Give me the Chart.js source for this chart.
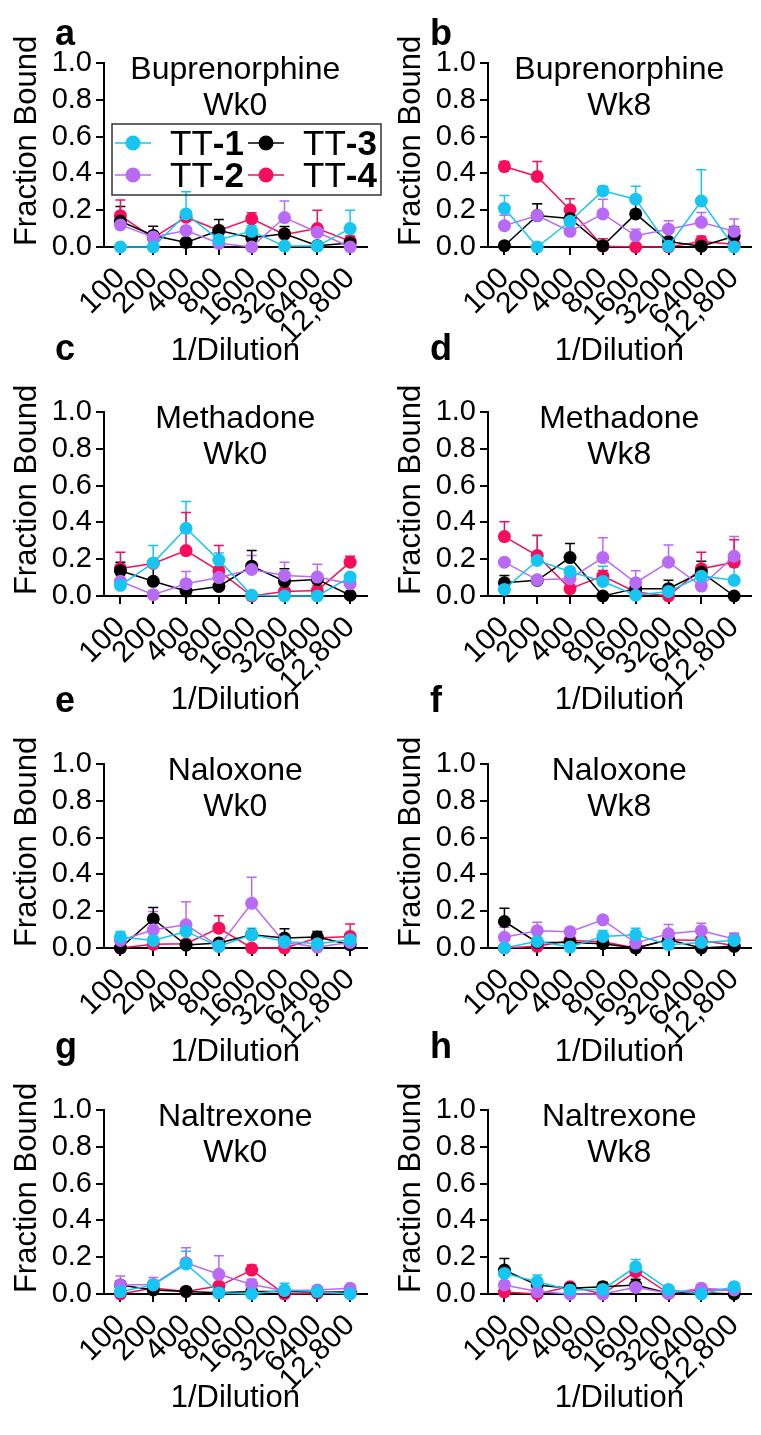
<!DOCTYPE html>
<html>
<head>
<meta charset="utf-8">
<title>Fraction bound vs dilution</title>
<script src="https://cdn.jsdelivr.net/npm/chart.js@4.4.1/dist/chart.umd.min.js"></script>
<style>
  html, body { margin: 0; padding: 0; background: #fff; }
  body { width: 761px; height: 1435px; position: relative; overflow: hidden; }
  canvas { position: absolute; }
</style>
</head>
<body>
<canvas id="pa"></canvas>
<canvas id="pb"></canvas>
<canvas id="pc"></canvas>
<canvas id="pd"></canvas>
<canvas id="pe"></canvas>
<canvas id="pf"></canvas>
<canvas id="pg"></canvas>
<canvas id="ph"></canvas>
<script>
const dilutions = ['100', '200', '400', '800', '1600', '3200', '6400', '12,800'];
const seriesNames = ['TT-1', 'TT-2', 'TT-3', 'TT-4'];
const seriesColors = ['#16c5f2', '#b86af7', '#000000', '#f70d5c'];
const yTicks = [0, 0.2, 0.4, 0.6, 0.8, 1.0];

// fraction bound, one row per series (TT-1, TT-2, TT-3, TT-4), error = upper SEM
const bup0 = [
  [0, 0, 0.18, 0.04, 0.085, 0.005, 0.005, 0.10],
  [0.12, 0.055, 0.09, 0.02, 0, 0.16, 0.08, 0],
  [0.14, 0.063, 0.025, 0.09, 0.05, 0.072, 0.007, 0.022],
  [0.17, 0.05, 0.162, 0.09, 0.153, 0.068, 0.10, 0.032]
];
const bup0Err = [
  [0, 0, 0.12, 0.02, 0.03, 0, 0, 0.10],
  [0.01, 0.01, 0.02, 0.01, 0, 0.09, 0.02, 0],
  [0.08, 0.05, 0.01, 0.06, 0.01, 0.04, 0.005, 0.02],
  [0.085, 0.01, 0.02, 0.01, 0.033, 0.01, 0.10, 0.028]
];
const bup8 = [
  [0.21, 0, 0.14, 0.305, 0.26, 0.004, 0.25, 0],
  [0.116, 0.171, 0.085, 0.18, 0.061, 0.097, 0.134, 0.085],
  [0.007, 0.171, 0.155, 0.007, 0.18, 0.03, 0.004, 0.058],
  [0.437, 0.383, 0.202, 0.004, 0, 0, 0.03, 0.015]
];
const bup8Err = [
  [0.07, 0, 0.04, 0.025, 0.07, 0, 0.17, 0],
  [0.057, 0.064, 0.01, 0.08, 0.036, 0.046, 0.054, 0.067],
  [0, 0.064, 0.035, 0, 0.09, 0.005, 0, 0.052],
  [0.027, 0.081, 0.06, 0.041, 0, 0, 0.028, 0.005]
];
const met0 = [
  [0.058, 0.18, 0.368, 0.195, 0.004, 0, 0, 0.103],
  [0.08, 0.007, 0.067, 0.1, 0.144, 0.112, 0.103, 0.067],
  [0.137, 0.08, 0.027, 0.052, 0.162, 0.08, 0.09, 0.004],
  [0.15, 0.177, 0.247, 0.137, 0, 0.025, 0.03, 0.184]
];
const met0Err = [
  [0.01, 0.094, 0.145, 0.039, 0, 0, 0, 0.01],
  [0.01, 0, 0.066, 0.02, 0.076, 0.072, 0.07, 0.01],
  [0.047, 0.09, 0.005, 0.01, 0.085, 0.068, 0.01, 0],
  [0.088, 0.01, 0.207, 0.137, 0, 0.01, 0.028, 0.032]
];
const met8 = [
  [0.036, 0.193, 0.133, 0.079, 0.004, 0.025, 0.108, 0.085],
  [0.184, 0.088, 0.094, 0.209, 0.072, 0.184, 0.054, 0.216],
  [0.072, 0.085, 0.209, 0, 0.04, 0.04, 0.13, 0],
  [0.323, 0.22, 0.04, 0.108, 0.022, 0, 0.148, 0.184]
];
const met8Err = [
  [0.01, 0.135, 0.02, 0.083, 0, 0.01, 0.04, 0.072],
  [0.01, 0.01, 0.01, 0.108, 0.065, 0.093, 0.01, 0.108],
  [0.04, 0.01, 0.077, 0, 0.01, 0.045, 0.059, 0],
  [0.081, 0.11, 0.01, 0.031, 0.01, 0, 0.09, 0.122]
];
const nal0 = [
  [0.06, 0.041, 0.09, 0.009, 0.072, 0.036, 0.023, 0.045],
  [0.041, 0.099, 0.126, 0.009, 0.243, 0.03, 0.005, 0.03],
  [0, 0.158, 0.016, 0.027, 0.072, 0.054, 0.06, 0.018],
  [0, 0.02, 0.023, 0.108, 0, 0, 0.054, 0.063]
];
const nal0Err = [
  [0.03, 0.01, 0.01, 0, 0.036, 0.02, 0.01, 0.01],
  [0.01, 0.1, 0.126, 0, 0.141, 0.01, 0, 0.01],
  [0, 0.062, 0.01, 0.015, 0.01, 0.05, 0.03, 0],
  [0, 0.01, 0.018, 0.067, 0, 0, 0.01, 0.067]
];
const nal8 = [
  [0, 0.036, 0.005, 0.063, 0.072, 0.018, 0.03, 0.041],
  [0.058, 0.094, 0.088, 0.153, 0.027, 0.077, 0.094, 0.049],
  [0.144, 0.03, 0.03, 0.023, 0, 0.045, 0, 0.009],
  [0, 0.009, 0.041, 0.034, 0, 0.045, 0.041, 0.013]
];
const nal8Err = [
  [0, 0.02, 0, 0.032, 0.036, 0.01, 0.01, 0.035],
  [0.055, 0.046, 0.01, 0.01, 0.01, 0.051, 0.041, 0.032],
  [0.072, 0.01, 0.03, 0.01, 0, 0.01, 0, 0],
  [0, 0.005, 0.01, 0.01, 0, 0.01, 0.01, 0.005]
];
const nlt0 = [
  [0.013, 0.049, 0.163, 0.007, 0, 0.022, 0.013, 0],
  [0.049, 0.052, 0.17, 0.107, 0.052, 0.018, 0.022, 0.031],
  [0.049, 0.022, 0.014, 0.007, 0.013, 0.013, 0.011, 0.011],
  [0, 0.033, 0.014, 0.043, 0.13, 0, 0.004, 0.004]
];
const nlt0Err = [
  [0.01, 0.01, 0.07, 0, 0, 0.036, 0.005, 0],
  [0.049, 0.038, 0.081, 0.101, 0.028, 0.01, 0.01, 0.02],
  [0.02, 0.01, 0, 0, 0, 0, 0, 0],
  [0, 0.005, 0, 0.01, 0.027, 0, 0, 0]
];
const nlt8 = [
  [0.112, 0.067, 0.022, 0.025, 0.148, 0.025, 0, 0.04],
  [0.049, 0.013, 0, 0, 0.036, 0.004, 0.031, 0.022],
  [0.13, 0.049, 0.031, 0.04, 0.049, 0.004, 0.007, 0],
  [0.011, 0, 0.04, 0, 0.121, 0.004, 0.022, 0.022]
];
const nlt8Err = [
  [0.02, 0.036, 0.01, 0.01, 0.04, 0.01, 0, 0.01],
  [0.02, 0, 0, 0, 0.01, 0, 0.02, 0],
  [0.063, 0.01, 0.01, 0.023, 0.031, 0, 0, 0],
  [0, 0, 0.005, 0, 0.01, 0, 0.005, 0.005]
];

const panels = [
  {id: 'pa', letter: 'a', drug: 'Buprenorphine', week: 'Wk0', vals: bup0, errs: bup0Err, row: 0, col: 0, legend: true},
  {id: 'pb', letter: 'b', drug: 'Buprenorphine', week: 'Wk8', vals: bup8, errs: bup8Err, row: 0, col: 1},
  {id: 'pc', letter: 'c', drug: 'Methadone', week: 'Wk0', vals: met0, errs: met0Err, row: 1, col: 0},
  {id: 'pd', letter: 'd', drug: 'Methadone', week: 'Wk8', vals: met8, errs: met8Err, row: 1, col: 1},
  {id: 'pe', letter: 'e', drug: 'Naloxone', week: 'Wk0', vals: nal0, errs: nal0Err, row: 2, col: 0},
  {id: 'pf', letter: 'f', drug: 'Naloxone', week: 'Wk8', vals: nal8, errs: nal8Err, row: 2, col: 1},
  {id: 'pg', letter: 'g', drug: 'Naltrexone', week: 'Wk0', vals: nlt0, errs: nlt0Err, row: 3, col: 0},
  {id: 'ph', letter: 'h', drug: 'Naltrexone', week: 'Wk8', vals: nlt8, errs: nlt8Err, row: 3, col: 1}
];

const FONT = '"Liberation Sans", Arial, sans-serif';
const W = 382, H = 417;
const colLeft = [0, 384];
const rowTop = [-37, 312, 664, 1010];

// upper error bars with caps, drawn under the lines
const errorBars = {
  id: 'errorBars',
  beforeDatasetsDraw(chart) {
    const errs = chart.options.plugins.errorBars.errs;
    const {ctx, scales: {x, y}} = chart;
    ctx.save();
    ctx.lineWidth = 1.5;
    chart.data.datasets.forEach((ds, i) => {
      ctx.strokeStyle = ds.borderColor;
      ds.data.forEach((v, j) => {
        const e = errs[i][j];
        if (!e) return;
        const px = x.getPixelForValue(j);
        const y0 = y.getPixelForValue(v);
        const y1 = y.getPixelForValue(v + e);
        ctx.beginPath();
        ctx.moveTo(px, y0);
        ctx.lineTo(px, y1);
        ctx.moveTo(px - 5, y1);
        ctx.lineTo(px + 5, y1);
        ctx.stroke();
      });
    });
    ctx.restore();
  }
};

// panel letter, title inside the plot, y title, legend
const decor = {
  id: 'decor',
  afterDraw(chart) {
    const o = chart.options.plugins.decor;
    const {ctx, chartArea: a} = chart;
    const cx = (a.left + a.right) / 2;
    ctx.save();
    ctx.fillStyle = '#000';
    ctx.textBaseline = 'alphabetic';

    ctx.font = 'bold 36px ' + FONT;
    ctx.textAlign = 'left';
    ctx.fillText(o.letter, a.left + (o.col ? -58 : -49), a.top + (o.row ? -52 : -18));

    ctx.font = '32px ' + FONT;
    ctx.textAlign = 'center';
    ctx.fillText(o.drug, cx, a.top + 16);
    ctx.fillText(o.week, cx, a.top + 52);

    ctx.save();
    ctx.translate(a.left - 77, (a.top + a.bottom) / 2 - 14);
    ctx.rotate(-Math.PI / 2);
    ctx.font = '31px ' + FONT;
    ctx.textBaseline = 'middle';
    ctx.fillText('Fraction Bound', 0, 0);
    ctx.restore();

    if (o.legend) {
      const L = a.left, T = a.top;
      ctx.strokeStyle = '#333';
      ctx.lineWidth = 1.5;
      ctx.strokeRect(L + 8, T + 61, 269, 71);
      const spots = [[0, 11, 80], [2, 144, 80], [1, 11, 112], [3, 144, 112]];
      spots.forEach(([i, dx, dy]) => {
        const c = seriesColors[i];
        ctx.strokeStyle = c;
        ctx.fillStyle = c;
        ctx.beginPath();
        ctx.moveTo(L + dx, T + dy);
        ctx.lineTo(L + dx + 36, T + dy);
        ctx.stroke();
        ctx.beginPath();
        ctx.arc(L + dx + 18, T + dy, 7.5, 0, Math.PI * 2);
        ctx.fill();
        const name = seriesNames[i];
        ctx.fillStyle = '#000';
        ctx.textAlign = 'left';
        ctx.font = '35px ' + FONT;
        const tx = L + dx + 55, ty = T + dy + 12;
        ctx.fillText('TT', tx, ty);
        const w = ctx.measureText('TT').width;
        ctx.font = 'bold 35px ' + FONT;
        ctx.fillText(name.slice(2), tx + w, ty);
      });
    }
    ctx.restore();
  }
};

panels.forEach(p => {
  const cv = document.getElementById(p.id);
  cv.width = W;
  cv.height = H;
  cv.style.left = colLeft[p.col] + 'px';
  cv.style.top = rowTop[p.row] + 'px';
  cv.style.width = W + 'px';
  cv.style.height = H + 'px';

  new Chart(cv, {
    type: 'line',
    data: {
      labels: dilutions,
      datasets: p.vals.map((v, i) => ({
        label: seriesNames[i],
        data: v,
        borderColor: seriesColors[i],
        backgroundColor: seriesColors[i],
        pointBackgroundColor: seriesColors[i],
        pointBorderColor: seriesColors[i],
        borderWidth: 1.5,
        pointRadius: 6.5,
        pointBorderWidth: 0,
        tension: 0,
        clip: false
      }))
    },
    options: {
      responsive: false,
      animation: false,
      devicePixelRatio: 1,
      layout: {padding: {top: 100, right: 0, bottom: 0, left: 0}},
      plugins: {
        legend: {display: false},
        tooltip: {enabled: false},
        errorBars: {errs: p.errs},
        decor: {letter: p.letter, drug: p.drug, week: p.week, row: p.row, col: p.col, legend: !!p.legend}
      },
      scales: {
        x: {
          type: 'category',
          offset: true,
          afterFit: s => { s.height = 133; },
          ticks: {autoSkip: false, minRotation: 45, maxRotation: 45, color: '#000', padding: 6,
                  font: {family: FONT, size: 30}},
          grid: {offset: false, drawOnChartArea: false, tickLength: 8, color: '#000', lineWidth: 2},
          border: {color: '#000', width: 2},
          title: {display: true, text: '1/Dilution', color: '#000',
                  font: {family: FONT, size: 31}, padding: {top: 0, bottom: 10}}
        },
        y: {
          min: 0,
          max: 1,
          afterBuildTicks: s => { s.ticks = yTicks.map(v => ({value: v})); },
          afterFit: s => { s.width = 104; },
          ticks: {autoSkip: false, callback: v => v.toFixed(1), color: '#000', padding: 4,
                  font: {family: FONT, size: 29}},
          grid: {drawOnChartArea: false, tickLength: 8, color: '#000', lineWidth: 2},
          border: {color: '#000', width: 2}
        }
      }
    },
    plugins: [errorBars, decor]
  });
});
</script>
</body>
</html>
